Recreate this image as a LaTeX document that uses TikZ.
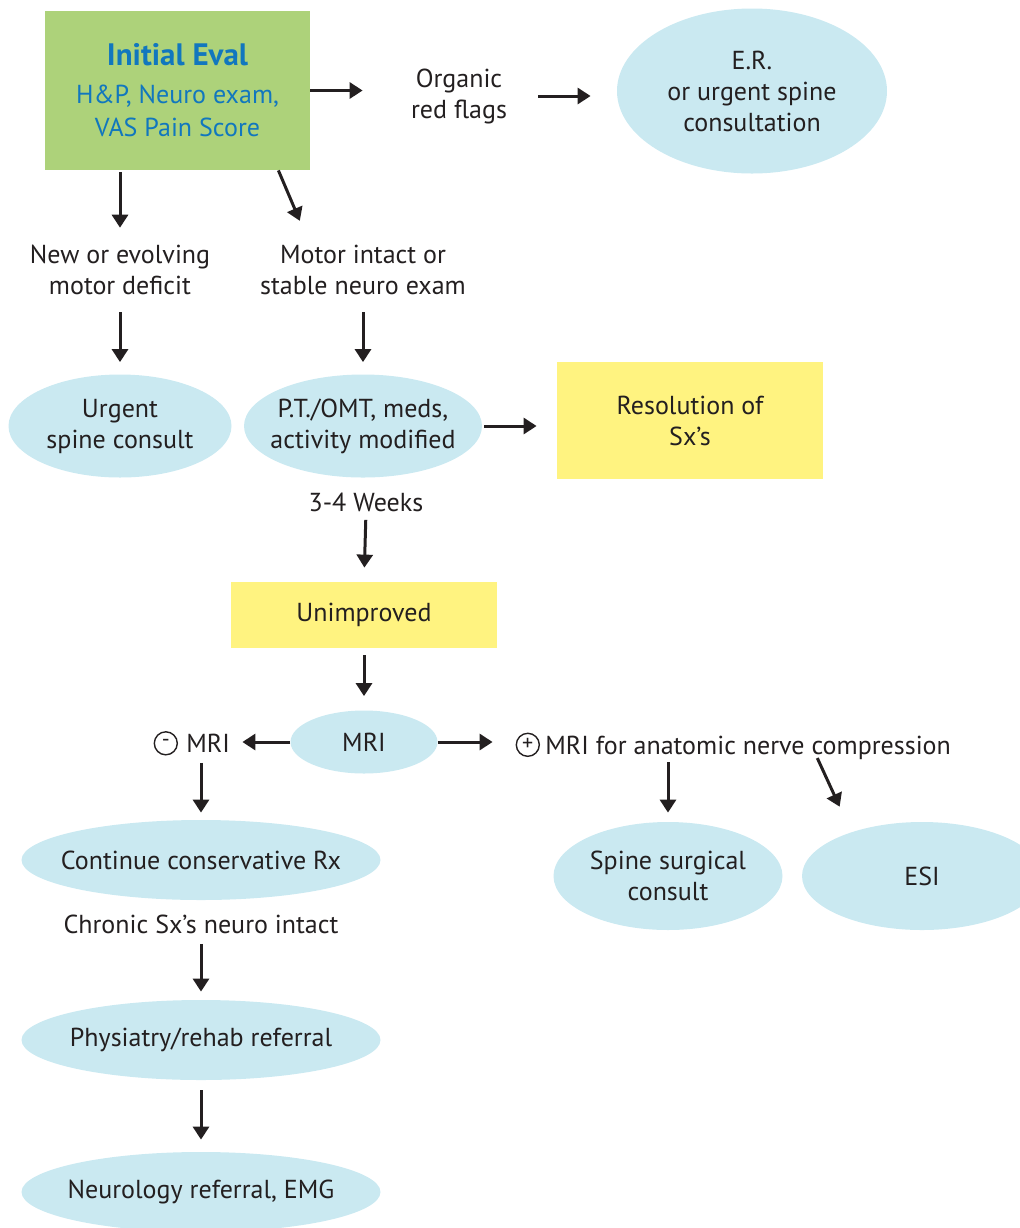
\documentclass[tikz,border=0pt]{standalone}
\usepackage{fontspec}
\setmainfont{PT Sans}
\usetikzlibrary{arrows.meta,shapes.geometric,positioning}
\definecolor{evalgreen}{HTML}{ADD27A}
\definecolor{evalblue}{HTML}{1177BE}
\definecolor{bubblefill}{HTML}{CAE9F1}
\definecolor{notefill}{HTML}{FFF380}
\definecolor{ink}{HTML}{231F20}
\tikzset{arrows={-{Triangle[length=6.5pt,width=8pt]}}}
\tikzset{
  txt/.style={inner sep=0pt, align=center},
  bubble/.style={ellipse, fill=bubblefill, inner sep=-60pt, align=center},
  notebox/.style={rectangle, fill=notefill, inner sep=0pt, align=center},
  signmark/.style={circle, draw=ink, line width=0.7pt, inner sep=0pt,
    minimum size=11.5pt, font=\fontsize{11}{11}\selectfont},
  every edge/.style={draw=ink, line width=1.5pt}
}

\begin{document}
\begin{tikzpicture}[x=0.5pt, y=-0.5pt,
    every node/.style={font=\fontsize{13}{15.5}\selectfont, text=ink}]
    \useasboundingbox (0,0) rectangle (1020,1228);
    \node[rectangle, fill=evalgreen, text=evalblue, align=center,
          font=\fontsize{13}{16.5}\selectfont,
          minimum width=132.5pt, minimum height=79.5pt] (init) at (177.5,90.5)
          {{\fontsize{15.5}{18}\selectfont\bfseries Initial Eval}\\[2.5pt]H\&P, Neuro exam,\\VAS Pain Score};
    \node[txt] (flags) at (459,96) {Organic\\red flags};
    \node[bubble, minimum width=135pt, minimum height=82.5pt] (er) at (752,91)
          {E.R.\\or urgent spine\\consultation};
    \node[txt] (newdef) at (120,270) {New or evolving\\motor deficit};
    \node[txt] (intact) at (363,270) {Motor intact or\\stable neuro exam};
    \node[bubble, minimum width=111.5pt, minimum height=51.5pt] (urgent) at (120,426)
          {Urgent\\spine consult};
    \node[bubble, minimum width=119pt, minimum height=51.5pt] (ptomt) at (363,426)
          {P.T./OMT, meds,\\activity modified};
    \node[notebox, minimum width=133pt, minimum height=58.5pt] (resol) at (690,420.5)
          {Resolution of\\Sx’s};
    \node[txt] (weeks) at (366,502) {3-4 Weeks};
    \node[notebox, minimum width=133pt, minimum height=33pt] (unimp) at (364,615)
          {Unimproved};
    \node[bubble, minimum width=73.5pt, minimum height=31.5pt] (mri) at (364,742) {MRI};
    \node[txt, anchor=base west] (negmri) at (186,752.5) {MRI};
    \node[signmark, left=4pt of negmri.west] (negsign) {-};
    \node[txt, text depth=0pt, anchor=base west] (posmri) at (545,754)
          {MRI for anatomic nerve compression};
    \node[signmark, left=2.5pt of posmri.west] (possign) {+};
    \node[bubble, minimum width=179.5pt, minimum height=40pt] (cons) at (201,860)
          {Continue conservative Rx};
    \node[txt] (chronic) at (201,924) {Chronic Sx’s neuro intact};
    \node[bubble, minimum width=179.5pt, minimum height=40pt] (physi) at (201,1040)
          {Physiatry/rehab referral};
    \node[bubble, minimum width=179.5pt, minimum height=40pt] (neuro) at (201,1192)
          {Neurology referral, EMG};
    \node[bubble, minimum width=114.5pt, minimum height=54pt] (spine) at (668,876)
          {Spine surgical\\consult};
    \node[bubble, minimum width=120pt, minimum height=54pt] (esi) at (922,876) {ESI};
    % connectors
    \path (init.east) edge[shorten >=24pt] (init.east -| flags.west)
          (flags.east) edge[shorten <=15.5pt, shorten >=13pt] (flags.east -| er.west)
          (init.south -| newdef) edge[shorten <=1pt, shorten >=8.5pt] (newdef.north)
          ([xshift=-16pt]init.south east) edge[shorten >=13pt] ([xshift=-26.5pt]intact.north)
          (newdef.south) edge[shorten <=8.5pt, shorten >=6pt] (urgent.north)
          (intact.south) edge[shorten <=8.5pt, shorten >=6pt] (ptomt.north)
          (ptomt.east) edge[shorten <=1pt, shorten >=10pt] (ptomt.east -| resol.west)
          (weeks.south) edge[shorten <=4pt, shorten >=7pt] (unimp.north)
          (unimp.south) edge[shorten <=3.5pt, shorten >=7pt] (mri.north)
          (mri.west) edge[shorten >=6pt] (mri.west -| negmri.east)
          (mri.east) edge[shorten >=11.5pt] (mri.east -| possign.west)
          (negmri.south -| cons) edge[shorten <=5pt, shorten >=3.5pt] (cons.north)
          (chronic.south) edge[shorten <=5pt, shorten >=4pt] (physi.north)
          (physi.south) edge[shorten <=5pt, shorten >=6pt] (neuro.north)
          (posmri.south -| spine) edge[shorten <=4pt, shorten >=4.5pt] (spine.north)
          ([xshift=33.75pt]posmri.south) edge[shorten <=2pt, shorten >=8.2pt] ([xshift=-37.75pt]esi.north);
\end{tikzpicture}
\end{document}
